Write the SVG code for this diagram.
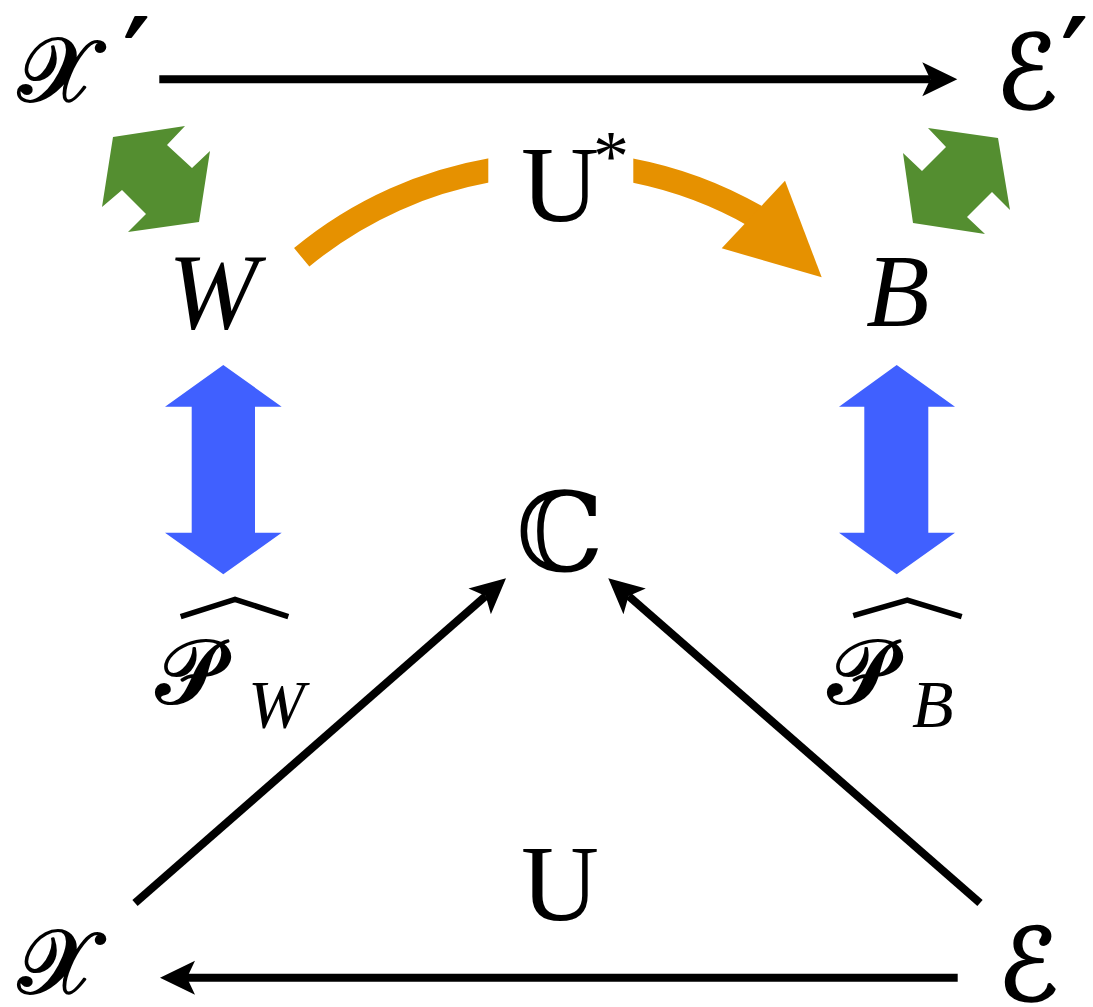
<svg xmlns="http://www.w3.org/2000/svg" width="1093" height="1007" viewBox="0 0 1093 1007">
<style>
.lbl{font-family:"DejaVu Serif","DejaVu Sans","Noto Sans",serif;fill:#000}
.scr{font-family:"DejaVu Serif","DejaVu Sans","Noto Sans",serif;fill:#000;stroke:#000;stroke-width:2.2;stroke-linejoin:round}
.rm{font-family:"Liberation Serif","Times New Roman",serif;fill:#000}
.it{font-family:"Liberation Serif","Times New Roman",serif;font-style:italic;fill:#000}
.edge{stroke:#000;stroke-width:8;fill:none}
.hat{stroke:#000;stroke-width:5.5;fill:none;stroke-linejoin:miter}
.green{fill:#548e30}
.blue{fill:#4060ff}
.orange{fill:#e69100}
.ostroke{stroke:#e69100;stroke-width:24;fill:none}
</style>
<defs>
<marker id="ah" markerUnits="userSpaceOnUse" orient="auto" refX="0" refY="0" markerWidth="40" markerHeight="40" overflow="visible">
<path d="M0,0 L-8,-17 L27,0 L-8,17 Z" fill="#000"/>
</marker>
<clipPath id="clipL"><rect x="0" y="0" width="488.3" height="400"/></clipPath>
<clipPath id="clipR"><rect x="633.3" y="0" width="400" height="400"/></clipPath>
</defs>

<g id="connectors">
<line class="edge" x1="159.3" y1="79.3" x2="930.3" y2="79.3" marker-end="url(#ah)"/>
<line class="edge" x1="957.7" y1="977.7" x2="187" y2="977.7" marker-end="url(#ah)"/>
<line class="edge" x1="135" y1="903" x2="485.7" y2="596.1" marker-end="url(#ah)"/>
<line class="edge" x1="980" y1="903" x2="628.6" y2="596.1" marker-end="url(#ah)"/>
<g id="ustar-arrow">
<path class="ostroke" clip-path="url(#clipL)" d="M301.7,257.3 A406,406 0 0 1 500,168.6"/>
<path class="ostroke" clip-path="url(#clipR)" d="M620,168.3 A406,406 0 0 1 756,216.5"/>
<polygon class="orange" points="785,180.7 821.7,277.3 721.7,248.3"/>
</g>
<polygon id="green-left" class="green" points="113,137 185,126 167,145 192,168 210,151 199,222 128,232 146,214 122,190 102,207"/>
<polygon id="green-right" class="green" points="928,128 998,138 1010,210 992,192 967,217 985,234 913,223 903,153 922,171 946,147"/>
<polygon id="blue-left" class="blue" points="223.3,365 281.7,406.7 255,406.7 255,532.7 281.7,532.7 223.3,574.3 165,532.7 191.7,532.7 191.7,406.7 165,406.7"/>
<polygon id="blue-right" class="blue" points="896.7,365 955,406.7 928.3,406.7 928.3,532.7 955,532.7 896.7,574.3 839,532.7 864.3,532.7 864.3,406.7 839,406.7"/>
</g>

<g id="node-Xp"><text class="scr" x="18" y="101" font-size="90">𝒳<tspan x="124" y="98" font-size="110">′</tspan></text></g>
<g id="node-Ep"><text class="scr" x="996" y="108" font-size="102">ℰ<tspan x="1062" y="98" font-size="110">′</tspan></text></g>
<g id="node-W"><text class="it" x="168" y="328" font-size="108">W</text></g>
<g id="node-B"><text class="it" x="866" y="326" font-size="104">B</text></g>
<g id="label-Ustar"><text class="rm" x="521" y="221" font-size="108">U<tspan x="593" y="180" font-size="72">*</tspan></text></g>
<g id="node-C"><text class="lbl" x="516" y="571" font-size="110">ℂ</text></g>
<g id="node-PW"><polyline class="hat" points="180.7,616.7 235,599.3 288.3,616.7"/><text class="scr" x="156" y="703" font-size="90">𝒫<tspan class="it" x="248" y="727" font-size="68" stroke-width="0">W</tspan></text></g>
<g id="node-PB"><polyline class="hat" points="853.3,615.7 907.3,600 961.7,616.7"/><text class="scr" x="828" y="703" font-size="90">𝒫<tspan class="it" x="912" y="727" font-size="68" stroke-width="0">B</tspan></text></g>
<g id="label-U"><text class="rm" x="521" y="920" font-size="108">U</text></g>
<g id="node-X"><text class="scr" x="18" y="993" font-size="90">𝒳</text></g>
<g id="node-E"><text class="scr" x="998" y="1000" font-size="100">ℰ</text></g>
</svg>
